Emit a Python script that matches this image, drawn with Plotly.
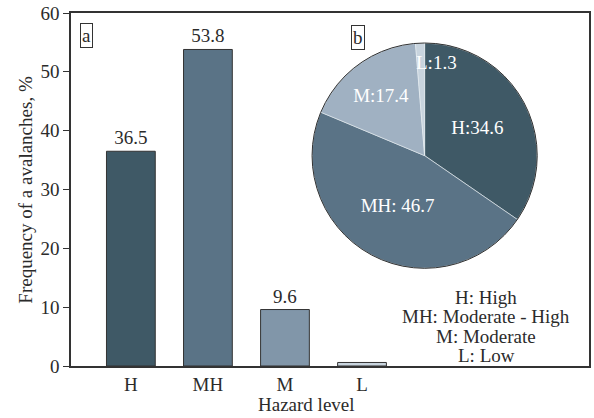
import plotly.graph_objects as go

categories = ["H", "MH", "M", "L"]
bar_values = [36.5, 53.8, 9.6, 0.6]
bar_labels = ["36.5", "53.8", "9.6", ""]
pie_labels = ["H", "MH", "M", "L"]
pie_values = [34.6, 46.7, 17.4, 1.3]
pie_text = ["H:34.6", "MH: 46.7", "M:17.4", ""]
small_slice_label = "L:1.3"
y_ticks = [0, 10, 20, 30, 40, 50, 60]
legend_lines = ["H: High", "MH: Moderate - High", "M: Moderate", "L: Low"]

bar_colors = ["#3f5966", "#5a7386", "#8196a9", "#c8d4de"]
pie_colors = ["#3f5966", "#5a7386", "#a0b1c2", "#c8d4de"]
FONT = "Liberation Serif"
TXT = "#2b2b2b"
FS = 19

fig = go.Figure()
fig.add_trace(go.Bar(
    x=categories, y=bar_values, text=bar_labels, textposition="outside",
    marker=dict(color=bar_colors, line=dict(color="#333333", width=1)),
    width=0.633, textfont=dict(family=FONT, size=FS, color=TXT),
    cliponaxis=False, showlegend=False,
))
fig.add_trace(go.Pie(
    labels=pie_labels, values=pie_values, text=pie_text, textinfo="text",
    sort=False, direction="clockwise", rotation=0,
    marker=dict(colors=pie_colors, line=dict(color="#e8eef2", width=0.6)),
    textposition="inside", insidetextorientation="horizontal",
    textfont=dict(family=FONT, size=FS, color="white"),
    domain=dict(x=[0.4654, 0.9], y=[0.2768, 0.915]),
    showlegend=False,
))

legend_y = [0.195, 0.139, 0.084, 0.030]
annotations = [
    dict(text="a", xref="paper", yref="paper", x=0.0175, y=0.972,
         xanchor="left", yanchor="top", showarrow=False, bordercolor="#333333",
         borderwidth=1, borderpad=1, font=dict(family=FONT, size=FS, color=TXT)),
    dict(text="b", xref="paper", yref="paper", x=0.540, y=0.966,
         xanchor="left", yanchor="top", showarrow=False, bordercolor="#333333",
         borderwidth=1, borderpad=1, font=dict(family=FONT, size=FS, color=TXT)),
    dict(text=small_slice_label, xref="paper", yref="paper", x=0.706, y=0.859,
         xanchor="center", yanchor="middle", showarrow=False,
         font=dict(family=FONT, size=FS, color="white")),
    dict(text="Hazard level", xref="paper", yref="paper", x=0.454, y=-0.110,
         xanchor="center", yanchor="middle", showarrow=False,
         font=dict(family=FONT, size=FS, color=TXT)),
    dict(text="Frequency of a avalanches, %", xref="paper", yref="paper",
         x=-0.0885, y=0.5, xanchor="center", yanchor="middle", textangle=-90,
         showarrow=False, font=dict(family=FONT, size=FS, color=TXT)),
]
for line, yy in zip(legend_lines, legend_y):
    annotations.append(dict(text=line, xref="paper", yref="paper", x=0.802, y=yy,
                            xanchor="center", yanchor="middle", showarrow=False,
                            font=dict(family=FONT, size=FS, color=TXT)))

fig.update_layout(
    width=594, height=418,
    margin=dict(l=71, r=3, t=12, b=52),
    paper_bgcolor="white", plot_bgcolor="white",
    font=dict(family=FONT, size=FS, color=TXT),
    uniformtext=dict(minsize=FS, mode="show"),
    xaxis=dict(range=[-0.777, 5.946], showgrid=False, zeroline=False,
               showline=True, linecolor="#333333", linewidth=1.5, mirror=True,
               ticks="", tickfont=dict(family=FONT, size=FS, color=TXT)),
    yaxis=dict(range=[0, 60], tickvals=y_ticks, showgrid=False, zeroline=False,
               showline=True, linecolor="#333333", linewidth=1.5, mirror=True,
               ticks="outside", ticklen=6, tickcolor="#333333",
               tickfont=dict(family=FONT, size=FS, color=TXT)),
    shapes=[dict(type="circle", xref="paper", yref="paper",
                 x0=0.4654, x1=0.9, y0=0.2768, y1=0.915,
                 line=dict(color="#333333", width=1))],
    annotations=annotations,
)

fig.write_html("out.html", config={"displayModeBar": False},
               post_script="document.body.style.margin='0';document.body.style.overflow='hidden';")
